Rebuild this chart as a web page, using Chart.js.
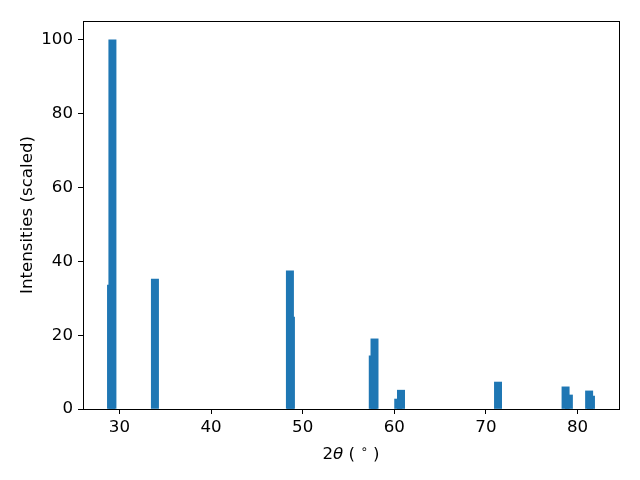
<!DOCTYPE html>
<html>
<head>
<meta charset="utf-8">
<script src="https://cdn.jsdelivr.net/npm/chart.js@4/dist/chart.umd.min.js"></script>
<style>
  html, body { margin: 0; padding: 0; background: #fff; }
  #wrap { width: 640px; height: 480px; }
</style>
</head>
<body>
<div id="wrap"><canvas id="xrdChart" width="640" height="480"></canvas></div>
<script>
// peak positions (2theta, degrees) and scaled intensities
const twoTheta = [29.09, 29.24, 33.88, 48.61, 48.72, 57.65, 57.84, 60.43, 60.73, 71.32, 78.69, 79.05, 81.26, 81.46];
const intensity = [33.6, 100, 35.2, 37.4, 24.9, 14.4, 19.0, 2.7, 5.1, 7.3, 6.0, 3.8, 4.9, 3.5];

const xTickValues = [30, 40, 50, 60, 70, 80];
const yTickValues = [0, 20, 40, 60, 80, 100];

const FONT = 'DejaVu Sans';
const FONT_SIZE = 16.67;

// matplotlib-like box around the axes
const framePlugin = {
  id: 'frame',
  afterDraw(chart) {
    const { ctx, chartArea: a } = chart;
    ctx.save();
    ctx.strokeStyle = '#000';
    ctx.lineWidth = 1;
    ctx.strokeRect(Math.round(a.left) + 0.5, Math.round(a.top) + 0.5,
      Math.round(a.right - a.left), Math.round(a.bottom - a.top));
    ctx.restore();
  }
};

// x label "2θ (°)" with italic theta and raised degree circle
const xTitlePlugin = {
  id: 'xTitle',
  afterDraw(chart) {
    const { ctx, chartArea: a } = chart;
    const parts = [
      { t: '2', font: `${FONT_SIZE}px "${FONT}"`, dy: 0 },
      { t: 'θ', font: `oblique ${FONT_SIZE}px "${FONT}"`, dy: 0 },
      { t: ' ( ', font: `${FONT_SIZE}px "${FONT}"`, dy: 0 },
      { t: '∘', font: `${FONT_SIZE * 0.7}px "${FONT}"`, dy: -6 },
      { t: ' )', font: `${FONT_SIZE}px "${FONT}"`, dy: 0 }
    ];
    ctx.save();
    ctx.fillStyle = '#000';
    ctx.textBaseline = 'alphabetic';
    let total = 0;
    parts.forEach(p => { ctx.font = p.font; p.w = ctx.measureText(p.t).width; total += p.w; });
    let x = (a.left + a.right) / 2 - total / 2;
    const y = 459;
    parts.forEach(p => {
      ctx.font = p.font;
      ctx.fillText(p.t, x, y + p.dy);
      x += p.w;
    });
    ctx.restore();
  }
};

const ctx = document.getElementById('xrdChart').getContext('2d');
new Chart(ctx, {
  type: 'bar',
  data: {
    datasets: [{
      data: twoTheta.map((t, i) => ({ x: t, y: intensity[i] })),
      backgroundColor: '#1f77b4',
      borderWidth: 0,
      barThickness: 7.33
    }]
  },
  options: {
    responsive: false,
    animation: false,
    layout: { padding: { top: 21, right: 21, left: 0, bottom: 0 } },
    plugins: {
      legend: { display: false },
      tooltip: { enabled: false }
    },
    scales: {
      x: {
        type: 'linear',
        min: 26.03,
        max: 84.52,
        offset: false,
        afterFit(scale) { scale.height = 71; },
        afterBuildTicks(scale) { scale.ticks = xTickValues.map(v => ({ value: v })); },
        grid: { display: true, offset: false, drawOnChartArea: false, drawTicks: true, tickLength: 5, color: '#000' },
        border: { display: false },
        ticks: {
          color: '#000',
          padding: 4,
          maxRotation: 0,
          font: { family: FONT, size: FONT_SIZE },
          callback: v => String(v)
        }
      },
      y: {
        min: 0,
        max: 105.1,
        afterFit(scale) { scale.width = 83; },
        afterBuildTicks(scale) { scale.ticks = yTickValues.map(v => ({ value: v })); },
        grid: { display: true, drawOnChartArea: false, drawTicks: true, tickLength: 5, color: '#000' },
        border: { display: false },
        title: {
          display: true,
          text: 'Intensities (scaled)',
          color: '#000',
          padding: { top: 18, bottom: 0 },
          font: { family: FONT, size: FONT_SIZE }
        },
        ticks: {
          color: '#000',
          padding: 5,
          font: { family: FONT, size: FONT_SIZE },
          callback: v => String(v)
        }
      }
    }
  },
  plugins: [framePlugin, xTitlePlugin]
});
</script>
</body>
</html>
